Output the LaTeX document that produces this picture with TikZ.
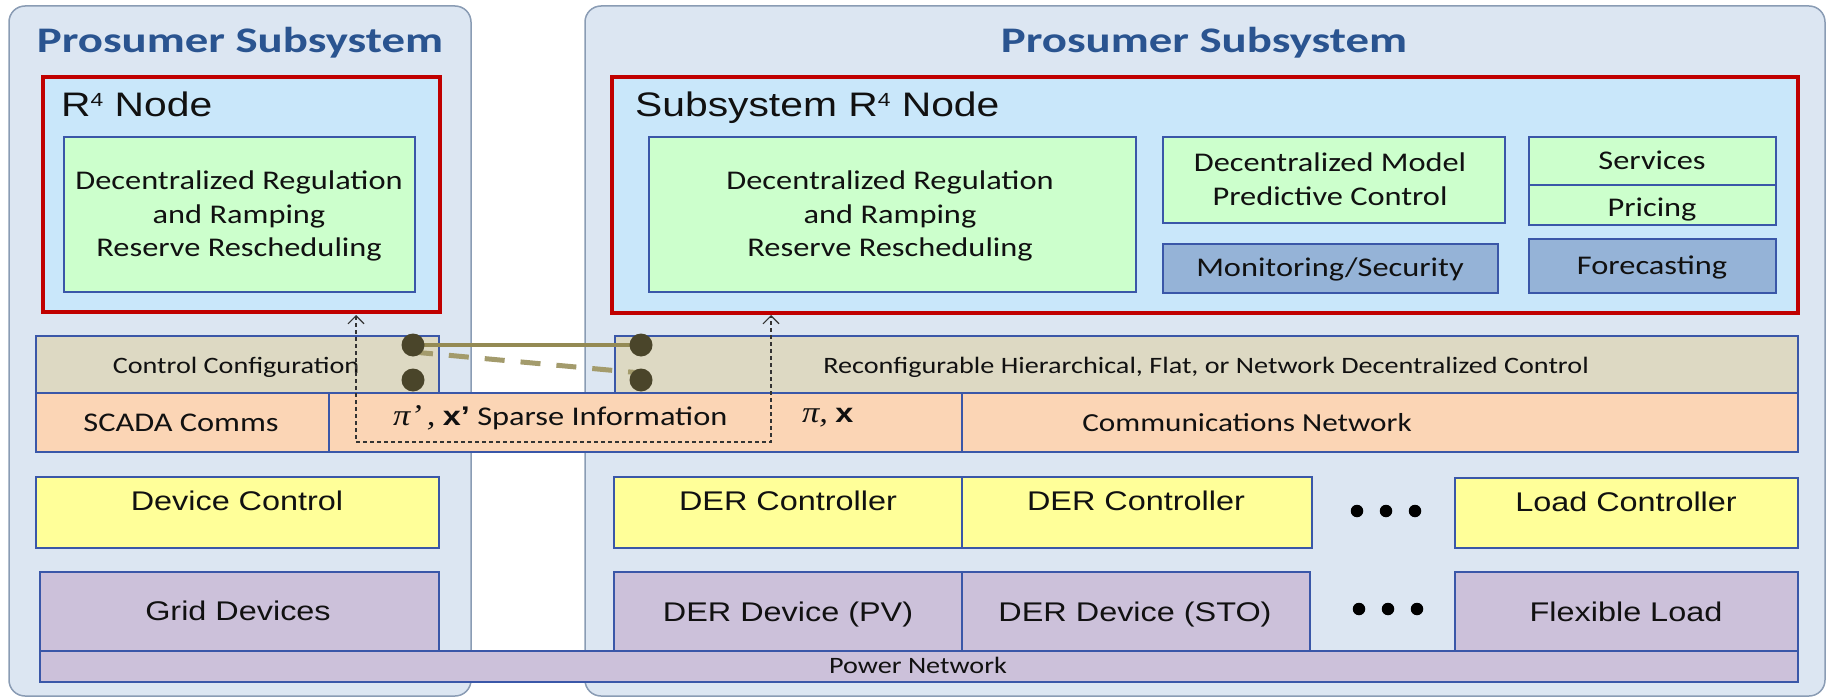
\documentclass[tikz,border=0pt]{standalone}
\usepackage{fontspec}
\setmainfont{Carlito}[FakeStretch=1.2]
\newfontfamily\arialf{Liberation Sans}[FakeStretch=1.2]
\newfontfamily\serift{Liberation Serif}[FakeStretch=1.15]
\newfontfamily\titlef{Carlito}[FakeStretch=1.3]
\usetikzlibrary{fit,calc,arrows.meta}
\definecolor{panelfill}{HTML}{DCE6F2}
\definecolor{panelline}{HTML}{8A9CB4}
\definecolor{redfill}{HTML}{C9E7FA}
\definecolor{redline}{HTML}{C00000}
\definecolor{greenfill}{HTML}{CCFFCC}
\definecolor{tanfill}{HTML}{DDD9C3}
\definecolor{peachfill}{HTML}{FBD5B5}
\definecolor{yellowfill}{HTML}{FFFF99}
\definecolor{purplefill}{HTML}{CCC1DA}
\definecolor{monfill}{HTML}{95B3D7}
\definecolor{boxline}{HTML}{3A57A8}
\definecolor{titleblue}{HTML}{2A5490}
\definecolor{olivedot}{HTML}{4A452A}
\definecolor{oliveline}{HTML}{948A54}
\definecolor{olivedash}{HTML}{A39B6C}
\definecolor{textcol}{HTML}{111111}
\tikzset{
  panel/.style={draw=panelline, fill=panelfill, line width=1.5pt, rounded corners=16pt, inner sep=0pt},
  bx/.style={draw=boxline, line width=1.2pt, inner sep=0pt},
  redbx/.style={draw=redline, fill=redfill, line width=4pt, inner sep=0pt},
  greenbx/.style={bx, fill=greenfill},
  tanbx/.style={bx, fill=tanfill},
  peachbx/.style={bx, fill=peachfill},
  yellowbx/.style={bx, fill=yellowfill},
  purplebx/.style={bx, fill=purplefill},
  monbx/.style={bx, fill=monfill},
  txt/.style={inner sep=0pt, text=textcol, anchor=base},
  titletxt/.style={inner sep=0pt, text=titleblue, anchor=base, font=\titlef\bfseries\fontsize{36}{40}\selectfont},
  cal/.style={txt, font=\fontsize{27}{33.5}\selectfont},
  calml/.style={cal, align=center, anchor=center},
  calsm/.style={txt, font=\fontsize{23.5}{28}\selectfont},
  ari/.style={txt, font=\arialf\fontsize{27}{32}\selectfont},
  rtitle/.style={txt, anchor=base west, font=\arialf\fontsize{34}{40}\selectfont},
  bullet/.style={circle, fill=black, inner sep=0pt, minimum size=12.5pt},
  odot/.style={circle, fill=olivedot, inner sep=0pt, minimum size=23pt},
  oline/.style={draw=oliveline, line width=4pt},
  odash/.style={draw=olivedash, line width=5pt, dash pattern=on 20pt off 16pt},
  darrow/.style={draw=black!80, line width=1.1pt, dash pattern=on 4pt off 3pt,
    {Straight Barb[length=8pt,width=16pt]}-{Straight Barb[length=8pt,width=16pt]}}
}
\newcommand{\supfour}{\raisebox{10pt}{\fontsize{19}{19}\selectfont 4}}
\begin{document}
\begin{tikzpicture}[x=1pt,y=-1pt]
\useasboundingbox (0,0) rectangle (1829,698);
% panels
\node[panel, fit={(9,6) (471,696)}] (panL) {};
\node[panel, fit={(585,6) (1825,696)}] (panR) {};
\node[titletxt] (tL) at (240,53) {Prosumer Subsystem};
\node[titletxt] (tR) at (1204,53) {Prosumer Subsystem};
% R4 nodes
\node[redbx, fit={(43,77) (440,312)}] (redL) {};
\node[redbx, fit={(612,77) (1798,313)}] (redR) {};
\node[rtitle] (rnL) at (61,117) {R\supfour{} Node};
\node[rtitle] (rnR) at (635,117) {Subsystem R\supfour{} Node};
\node[greenbx, fit={(64,137) (415,292)}] (gL) {};
\node[calml] (gLt) at (239,216) {Decentralized Regulation\\and Ramping\\Reserve Rescheduling};
\node[greenbx, fit={(649,137) (1136,292)}] (gR) {};
\node[calml] (gRt) at (890,216) {Decentralized Regulation\\and Ramping\\Reserve Rescheduling};
\node[greenbx, fit={(1163,137) (1505,223)}] (mpc) {};
\node[calml] (mpct) at (1330,179) {Decentralized Model\\Predictive Control};
\node[monbx, fit={(1163,244) (1498,293)}] (mon) {};
\node[cal] (mont) at (1330,276) {Monitoring/Security};
\node[greenbx, fit={(1529,137) (1776,185)}] (serv) {};
\node[cal] (servt) at (1652,170) {Services};
\node[greenbx, fit={(1529,185) (1776,225)}] (pric) {};
\node[cal] (prict) at (1652,216) {Pricing};
\node[monbx, fit={(1529,239) (1776,293)}] (fore) {};
\node[cal] (foret) at (1652,274) {Forecasting};
% control configuration layer
\node[tanbx, fit={(36,336) (439,393)}] (ccL) {};
\node[calsm] (ccLt) at (236,373) {Control Configuration};
\node[tanbx, fit={(615,336) (1798,393)}] (ccR) {};
\node[calsm] (ccRt) at (1206,373) {Reconfigurable Hierarchical, Flat, or Network Decentralized Control};
% communications layer
\node[peachbx, fit={(36,393) (329,452)}] (scada) {};
\node[cal] (scadat) at (181,431) {SCADA Comms};
\node[peachbx, fit={(329,393) (962,452)}] (sparse) {};
\node[cal, anchor=base west] (sparset) at (393,425) {{\serift\itshape\fontsize{30}{30}\selectfont π’}{\serift\itshape\fontsize{30}{30}\selectfont\,,} {\arialf\bfseries x’} Sparse Information};
\node[cal, anchor=base west] (pixt) at (802,422) {{\serift\itshape\fontsize{30}{30}\selectfont π,} {\arialf\bfseries x}};
\node[peachbx, fit={(962,393) (1798,452)}] (comm) {};
\node[cal, font=\fontsize{26}{30}\selectfont] (commt) at (1247,431) {Communications Network};
% controllers
\node[yellowbx, fit={(36,477) (439,548)}] (devc) {};
\node[ari] (devct) at (237,510) {Device Control};
\node[yellowbx, fit={(614,477) (962,548)}] (der1) {};
\node[ari] (der1t) at (788,510) {DER Controller};
\node[yellowbx, fit={(962,477) (1312,548)}] (der2) {};
\node[ari] (der2t) at (1136,510) {DER Controller};
\node[yellowbx, fit={(1455,478) (1798,548)}] (loadc) {};
\node[ari] (loadct) at (1626,511) {Load Controller};
% devices
\node[purplebx, fit={(40,572) (439,651)}] (grid) {};
\node[ari] (gridt) at (238,620) {Grid Devices};
\node[purplebx, fit={(614,572) (962,651)}] (dev1) {};
\node[ari] (dev1t) at (788,621) {DER Device (PV)};
\node[purplebx, fit={(962,572) (1310,651)}] (dev2) {};
\node[ari] (dev2t) at (1135,621) {DER Device (STO)};
\node[purplebx, fit={(1455,572) (1798,651)}] (flex) {};
\node[ari] (flext) at (1626,621) {Flexible Load};
\node[purplebx, fit={(40,651) (1798,682)}] (power) {};
\node[calsm] (powert) at (918,673) {Power Network};
% ellipsis dots
\node[bullet] (e1) at (1357,511) {};
\node[bullet] (e2) at (1386,511) {};
\node[bullet] (e3) at (1415,511) {};
\node[bullet] (e4) at (1359,609) {};
\node[bullet] (e5) at (1388,609) {};
\node[bullet] (e6) at (1417,609) {};
% reconfigurable switch
\coordinate (cL1) at (413,345);
\coordinate (cL2) at (413,380);
\coordinate (cR1) at (641,345);
\coordinate (cR2) at (641,380);
\draw[oline] (cL1) -- (cR1);
\draw[odash] ($(cL1)+(0,7)$) -- ($(cR2)+(0,-7)$);
\node[odot] (dL1) at (cL1) {};
\node[odot] (dL2) at (cL2) {};
\node[odot] (dR1) at (cR1) {};
\node[odot] (dR2) at (cR2) {};
% sparse information exchange
\coordinate (aL) at (356,315);
\coordinate (aR) at (771,315);
\draw[darrow] (aL) -- ++(0,127) -| (aR);
\end{tikzpicture}
\end{document}
